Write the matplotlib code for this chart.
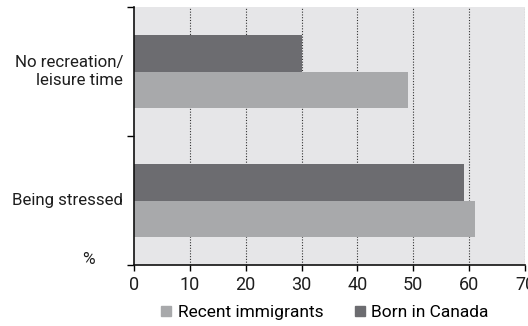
import matplotlib.pyplot as plt
from matplotlib.lines import Line2D

plt.rcParams["font.family"] = ["Roboto", "DejaVu Sans"]

categories = ["No recreation/\nleisure time", "Being stressed"]
born_in_canada = [30, 59]
recent_immigrants = [49, 61]
x_ticks = [0, 10, 20, 30, 40, 50, 60, 70]

c_born = "#6c6c70"
c_recent = "#a8a9ab"
c_bg = "#e6e6e8"
c_text = "#1e1e1e"

fig = plt.figure(figsize=(5.28, 3.26), dpi=100)
ax = fig.add_axes([134 / 528, 1 - 265 / 326, 391 / 528, 258 / 326])
ax.set_facecolor(c_bg)

h = 0.283
pos = list(range(len(categories)))
ax.barh([p - h / 2 for p in pos], born_in_canada, height=h, color=c_born, zorder=2)
ax.barh([p + h / 2 for p in pos], recent_immigrants, height=h, color=c_recent, zorder=2)

ax.set_xlim(0, 70)
ax.set_ylim(1.5, -0.5)
ax.set_xticks(x_ticks)
ax.set_xticklabels([str(t) for t in x_ticks], fontsize=13, color=c_text)
ax.set_yticks([-0.5, 0.5, 1.5])
ax.set_yticklabels([])
ax.tick_params(axis="x", length=4, width=1, pad=4)
ax.tick_params(axis="y", length=5, width=1)

# dotted vertical gridlines, drawn behind the bars
for t in x_ticks[1:]:
    ax.axvline(t, color="#333333", lw=0.8, ls=(0, (1, 1.5)), zorder=1)

for s in ["top", "right"]:
    ax.spines[s].set_visible(False)
for s in ["left", "bottom"]:
    ax.spines[s].set_linewidth(1.2)
    ax.spines[s].set_color("#111111")

# category names sit between the band tick marks
for p, lab in zip(pos, categories):
    ax.text(-0.028, p, lab, transform=ax.get_yaxis_transform(), ha="right",
            va="center", fontsize=12.2, color=c_text, linespacing=1.2)

fig.text(88 / 528, 1 - 259 / 326, "%", ha="center", va="center", fontsize=12.5, color=c_text)

handles = [
    Line2D([], [], ls="none", marker="s", markersize=6.5, color=c_recent, label="Recent immigrants"),
    Line2D([], [], ls="none", marker="s", markersize=6.5, color=c_born, label="Born in Canada"),
]
fig.legend(handles=handles, loc="center", bbox_to_anchor=(323 / 528, 1 - 312 / 326), ncol=2,
           frameon=False, fontsize=12.5, handletextpad=0.15, columnspacing=1.6, handlelength=1.0)

fig.savefig("out.png", dpi=100)
